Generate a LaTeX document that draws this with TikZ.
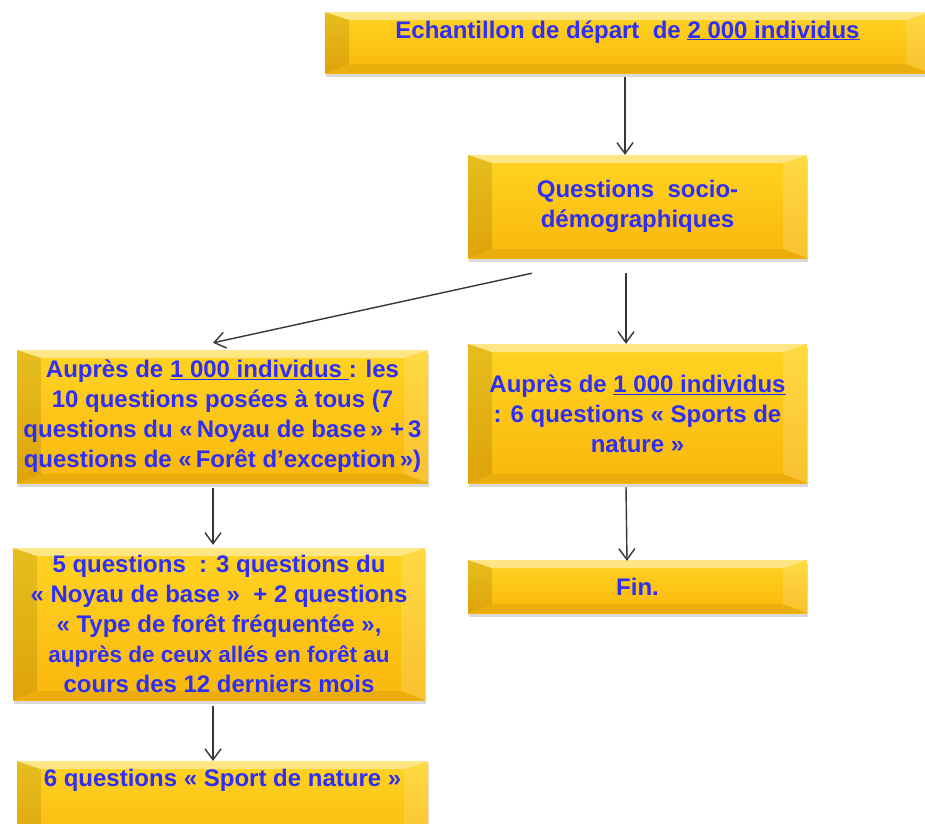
\documentclass[tikz,border=0pt]{standalone}
\usepackage{fontspec}
\setmainfont{Liberation Sans}
\usepackage{tikz}
\usetikzlibrary{arrows.meta,shadows,calc}

\definecolor{boxlight}{RGB}{255,212,34}
\definecolor{boxgold}{RGB}{249,183,12}
\definecolor{txtblue}{RGB}{46,46,248}
\definecolor{linkgray}{RGB}{55,55,55}

\tikzset{
	box/.style={top color=boxlight, bottom color=boxgold, text=txtblue,
		font=\fontsize{24}{30}\selectfont\bfseries, align=center, inner sep=0pt,
		drop shadow={shadow xshift=1pt, shadow yshift=-4pt, opacity=.3},
		path picture={
			\fill[white, fill opacity=.45] (path picture bounding box.north west) -- (path picture bounding box.north east)
				-- ([shift={(-24pt,-8pt)}]path picture bounding box.north east) -- ([shift={(24pt,-8pt)}]path picture bounding box.north west) -- cycle;
			\fill[black, fill opacity=.1] (path picture bounding box.north west) -- ([shift={(24pt,-8pt)}]path picture bounding box.north west)
				-- ([shift={(24pt,9pt)}]path picture bounding box.south west) -- (path picture bounding box.south west) -- cycle;
			\fill[white, fill opacity=.15] (path picture bounding box.north east) -- ([shift={(-24pt,-8pt)}]path picture bounding box.north east)
				-- ([shift={(-24pt,9pt)}]path picture bounding box.south east) -- (path picture bounding box.south east) -- cycle;
			\fill[black, fill opacity=.06] (path picture bounding box.south west) -- (path picture bounding box.south east)
				-- ([shift={(-24pt,9pt)}]path picture bounding box.south east) -- ([shift={(24pt,9pt)}]path picture bounding box.south west) -- cycle;
		}},
	link/.style={-{Straight Barb[length=11pt,width=16pt]}, line width=1.4pt, draw=linkgray}
}

\begin{document}
\begin{tikzpicture}[x=1pt,y=-1pt]
	\useasboundingbox (0,0) rectangle (925,823);
	\clip (0,0) rectangle (925,823);

	\node[box, minimum width=605pt, minimum height=61pt, text height=17pt, text depth=26pt] (depart) at (627.5,42.5)
		{Echantillon de départ\ \ de \underline{2 000 individus}};
	\node[box, minimum width=339pt, minimum height=103pt] (socio) at (637.5,206.5)
		{Questions\ \ socio-\\démographiques};

	\node[box, minimum width=411pt, minimum height=133pt] (tous) at (222.5,416.5)
		{Auprès de \underline{1 000 individus }: les\\10 questions posées à tous (7\\questions du «\,Noyau de base\,» +\,3\\questions de «\,Forêt d’exception\,»)};
	\node[box, minimum width=339pt, minimum height=139pt] (sportsA) at (637.5,413.5)
		{Auprès de \underline{1 000 individus}\\: 6 questions « Sports de\\nature »};

	\node[box, minimum width=412pt, minimum height=152pt] (noyau) at (219,624)
		{5 questions\ \ : 3 questions du\\« Noyau de base »\ \ + 2 questions\\« Type de forêt fréquentée »,\\
		\fontsize{22.5}{26}\selectfont auprès de ceux allés en forêt au\\cours des 12 derniers mois};
	\node[box, minimum width=339pt, minimum height=53pt] (fin) at (637.5,586.5) {Fin.};

	\node[box, minimum width=411pt, text height=17pt, text depth=60pt, inner ysep=8pt, anchor=north] (sportsB) at (222.5,761)
		{6 questions « Sport de nature »};

	\draw[link] ([xshift=-2.5pt,yshift=-4pt]depart.south) -- ([xshift=-12.5pt]socio.north);
	\draw[link] ([xshift=-11.5pt,yshift=-15pt]socio.south) -- ([xshift=-11.5pt]sportsA.north);
	\draw[link] ([xshift=-105.5pt,yshift=-15pt]socio.south) -- ([xshift=-9.5pt,yshift=7pt]tous.north);

	\draw[link] ([xshift=-9.5pt,yshift=-5pt]tous.south) -- ([xshift=-6pt,yshift=3pt]noyau.north);
	\draw[link] ([xshift=-6pt,yshift=-6pt]noyau.south) -- ([xshift=-9.5pt]sportsB.north);
	\draw[link] ([xshift=-11.5pt,yshift=-4pt]sportsA.south) -- ([xshift=-10.5pt,yshift=-1pt]fin.north);

\end{tikzpicture}
\end{document}
